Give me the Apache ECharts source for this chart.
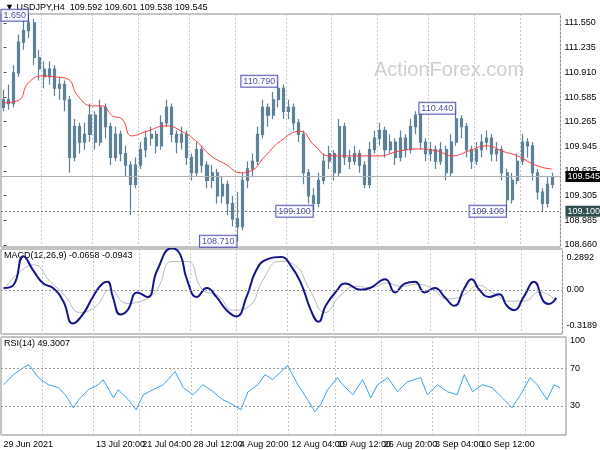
<!DOCTYPE html>
<html><head><meta charset="utf-8">
<script src="https://cdn.jsdelivr.net/npm/echarts@6/dist/echarts.min.js"></script>
<style>html,body{margin:0;background:#fff}#c{width:600px;height:450px}</style>
</head><body><div id="c"></div>
<script>
// OHLC bars as [open, close, low, high]
const bars = [
  [110.45,110.55,110.40,110.68],[110.55,110.50,110.42,110.75],[110.50,110.90,110.45,111.00],[110.90,111.30,110.85,111.40],
  [111.30,111.45,111.20,111.58],[111.45,111.55,111.35,111.65],[111.55,111.10,111.00,111.60],[111.10,110.95,110.80,111.20],
  [110.95,110.85,110.70,111.05],[110.85,110.95,110.75,111.05],[110.95,110.70,110.60,111.00],[110.70,110.75,110.55,110.85],
  [110.75,110.55,110.40,110.80],[110.55,109.80,109.60,110.60],[109.80,110.20,109.75,110.30],[110.20,110.00,109.85,110.25],
  [110.00,110.10,109.90,110.25],[110.10,110.35,110.00,110.50],[110.35,110.00,109.90,110.40],[110.00,110.45,109.95,110.55],
  [110.45,110.20,110.05,110.50],[110.20,109.80,109.70,110.25],[109.80,110.10,109.75,110.20],[110.10,109.85,109.75,110.15],
  [109.85,109.70,109.55,109.95],[109.70,109.45,109.05,109.75],[109.45,109.70,109.40,109.80],[109.70,109.90,109.65,110.00],
  [109.90,110.05,109.80,110.15],[110.05,110.10,109.95,110.20],[110.10,109.95,109.85,110.15],[109.95,110.25,109.90,110.35],
  [110.25,110.45,110.20,110.55],[110.45,110.10,110.00,110.50],[110.10,110.00,109.85,110.15],[110.00,110.10,109.90,110.20],
  [110.10,109.80,109.70,110.15],[109.80,109.60,109.50,109.85],[109.60,109.90,109.55,110.00],[109.90,109.70,109.60,109.95],
  [109.70,109.50,109.40,109.75],[109.50,109.60,109.40,109.70],[109.60,109.30,109.20,109.65],[109.30,109.45,109.20,109.55],
  [109.45,109.20,109.05,109.50],[109.20,109.00,108.90,109.30],[109.00,108.90,108.71,109.35],[108.90,109.50,108.85,109.60],
  [109.50,109.65,109.40,109.75],[109.65,109.75,109.55,109.85],[109.75,110.10,109.70,110.20],[110.10,110.45,110.05,110.55],
  [110.45,110.35,110.20,110.50],[110.35,110.55,110.30,110.65],[110.55,110.70,110.45,110.79],[110.70,110.40,110.30,110.75],
  [110.40,110.45,110.30,110.55],[110.45,110.25,110.15,110.50],[110.25,110.10,110.00,110.30],[110.10,109.60,109.45,110.15],
  [109.60,109.30,109.20,109.65],[109.30,109.20,109.10,109.40],[109.20,109.50,109.15,109.60],[109.50,109.75,109.45,109.85],
  [109.75,109.85,109.65,109.95],[109.85,109.60,109.50,109.90],[109.60,110.20,109.55,110.30],[110.20,109.80,109.70,110.25],
  [109.80,109.75,109.65,109.90],[109.75,109.85,109.70,109.95],[109.85,109.70,109.60,109.90],[109.70,109.45,109.40,109.75],
  [109.45,109.90,109.40,110.00],[109.90,110.05,109.85,110.15],[110.05,110.15,109.95,110.25],[110.15,109.90,109.80,110.20],
  [109.90,110.00,109.85,110.10],[110.00,109.80,109.70,110.05],[109.80,110.05,109.75,110.15],[110.05,109.90,109.80,110.10],
  [109.90,110.20,109.85,110.30],[110.20,110.35,110.10,110.40],[110.35,110.00,109.90,110.40],[110.00,109.85,109.75,110.05],
  [109.85,109.90,109.75,110.00],[109.90,109.75,109.65,109.95],[109.75,109.90,109.70,110.00],[109.90,109.60,109.50,109.95],
  [109.60,110.00,109.55,110.10],[110.00,110.30,109.95,110.44],[110.30,110.20,110.05,110.35],[110.20,109.90,109.80,110.25],
  [109.90,109.75,109.65,109.95],[109.75,109.90,109.70,110.00],[109.90,110.00,109.80,110.10],[110.00,110.05,109.90,110.15],
  [110.05,109.85,109.75,110.10],[109.85,109.90,109.75,110.00],[109.90,109.60,109.50,109.95],[109.60,109.25,109.10,109.65],
  [109.25,109.50,109.20,109.60],[109.50,109.75,109.45,109.85],[109.75,110.00,109.70,110.10],[110.00,109.95,109.80,110.05],
  [109.95,109.60,109.50,110.00],[109.60,109.35,109.25,109.65],[109.35,109.20,109.10,109.40],[109.20,109.45,109.15,109.55],
  [109.45,109.545,109.40,109.60]
];
const nCats = 110;

// [bar index, value]
const maLine = [[0,110.51],[2.9,110.54],[4.9,110.77],[7.8,110.86],[9.7,110.85],[12.6,110.82],[14.6,110.60],[17.5,110.47],
  [19.4,110.47],[21.4,110.34],[23.3,110.30],[25.2,110.08],[28.2,110.14],[32,110.21],[35,110.14],[37.9,110.01],
  [40.8,109.82],[43.7,109.71],[46.6,109.60],[48.5,109.62],[51.5,109.82],[54.4,110.01],[58.3,110.14],[61.2,109.95],
  [64.1,109.82],[67,109.82],[69.9,109.82],[73.8,109.82],[77.7,109.88],[81.6,109.91],[85.4,109.88],[88.3,109.82],
  [91.3,109.88],[95.1,109.95],[98.1,109.88],[101,109.82],[104.9,109.69],[107.8,109.65]];

const macdLine = [[0,0.016],[1.9,0.039],[3.9,0.297],[5.8,0.172],[7.8,0.055],[9.7,0.016],[11.7,-0.102],[13.6,-0.297],
  [15.5,-0.219],[17.5,-0.063],[19.4,0.055],[20.4,0.070],[21.4,-0.063],[22.9,-0.219],[24.3,-0.180],[26.2,-0.023],
  [28.2,-0.063],[30.1,0.172],[33,0.367],[34.6,0.313],[35.9,0.094],[37.9,-0.063],[39.8,0.016],[41.7,-0.063],
  [43.7,-0.180],[45.6,-0.235],[47.6,-0.063],[49.5,0.172],[51.5,0.266],[54.4,0.289],[56.3,0.211],[58.3,0.055],
  [60.2,-0.180],[61.7,-0.282],[63.1,-0.141],[65,-0.023],[67,0.055],[69.9,0],[71.8,0.016],[74.8,0.094],
  [76.7,-0.023],[78.6,0.055],[80.6,0.070],[82.5,-0.023],[84.5,0.016],[86.4,-0.063],[88.3,-0.141],[90.3,0.016],
  [91.7,0.094],[93.2,0],[95.1,-0.063],[97.1,-0.039],[98.6,-0.141],[100,-0.180],[101.9,-0.063],[103.9,0.070],
  [105.8,-0.102],[106.8,-0.125],[108.3,-0.070]];

const signalLine = [[0,0.0],[3,0.15],[6,0.22],[9,0.08],[12,-0.05],[15,-0.2],[18,-0.15],[21,0.0],[24,-0.12],[27,-0.1],
  [30,0.0],[33,0.25],[36,0.25],[39,0.0],[42,-0.05],[45,-0.18],[48,-0.15],[51,0.1],[54,0.25],[57,0.22],[60,0.0],
  [63,-0.2],[66,-0.05],[69,0.03],[72,0.02],[75,0.06],[78,0.03],[81,0.05],[84,0.01],[87,-0.08],[90,-0.05],
  [93,0.04],[96,-0.03],[99,-0.1],[102,-0.1],[105,-0.02],[108.3,-0.094]];

const rsiLine = [[0,52.7],[1.9,63.5],[3.9,71.1],[4.9,74.3],[6.8,60.3],[8.7,52.7],[10.7,49.5],[12,41.9],[13.6,27.8],
  [14.6,36.5],[16.5,47.3],[18.4,52.7],[19.4,58.1],[21.4,38.6],[22.3,47.3],[24.3,36.5],[25.8,25.7],[27.2,41.9],
  [29.1,47.3],[31.1,52.7],[32,58.1],[33.4,66.8],[35,49.5],[36.9,41.9],[38.8,52.7],[40.8,45.1],[42.7,36.5],
  [44.7,31.1],[46.2,25.7],[47.6,45.1],[49.5,52.7],[50.9,63.5],[52.4,58.1],[54.4,68.9],[55.3,73.2],[57.3,52.7],
  [59.2,36.5],[60.6,23.5],[61.7,31.1],[63.1,47.3],[65,60.3],[66,52.7],[68,41.9],[69.9,58.1],[71.5,38.6],
  [72.8,52.7],[74.8,60.3],[76.7,45.1],[78.6,55.9],[81.2,60.3],[82.5,41.9],[84.5,52.7],[86.4,45.1],[88.3,41.9],
  [89.7,63.5],[91.3,45.1],[93.2,52.7],[95.1,49.5],[97.1,38.6],[99,27.8],[101,45.1],[102.5,60.3],[103.9,52.7],
  [105.8,36.5],[107.2,52.7],[108.3,49.3]];

const priceTicks = [108.660,108.985,109.305,109.625,109.945,110.265,110.585,110.910,111.235,111.550];
const macdTicks = [-0.3189,0,0.2892];
const rsiTicks = [30,70,100];
const dateTicks = {0:'29 Jun 2021',8:'6 Jul 12:00',18:'13 Jul 20:00',27:'21 Jul 04:00',37:'28 Jul 12:00',46:'4 Aug 20:00',
  56:'12 Aug 04:00',65:'19 Aug 12:00',74:'26 Aug 20:00',84:'3 Sep 04:00',93:'10 Sep 12:00',102:'17 Sep 20:00'};
// [bar index, price, text]
const swingLabels = [[5,111.65,'1.650'],[54,110.79,'110.790'],[61,109.10,'109.100'],[46,108.71,'108.710'],
  [89,110.44,'110.440'],[99,109.10,'109.100']];

const font = 'Liberation Sans';
const cats = Array.from({length: nCats}, (_, i) => i);
const gridX = (idx) => ({
  type: 'category', data: cats, gridIndex: idx, boundaryGap: true,
  axisLine: {show: false}, axisTick: {show: false},
  axisLabel: idx === 2 ? {show: true, interval: (i) => dateTicks[i] !== undefined, formatter: (v) => dateTicks[v] || '',
    align: 'left', fontSize: 9, color: '#000', fontFamily: font, margin: 5, showMinLabel: true, hideOverlap: false} : {show: false},
  splitLine: {show: true, interval: (i) => dateTicks[i] !== undefined, lineStyle: {color: '#c8c8c8', type: [2, 2]}}
});
const hiddenX = (idx) => ({type: 'value', gridIndex: idx, min: -0.5, max: nCats - 0.5, show: false});
const yLab = {fontSize: 9, color: '#000', fontFamily: font, margin: 4};

const chart = echarts.init(document.getElementById('c'));
chart.setOption({
  animation: false,
  grid: [
    {left: 1, right: 34, top: 14, height: 233, show: true, borderColor: '#888', borderWidth: 1},
    {left: 1, right: 34, top: 249, height: 85, show: true, borderColor: '#888', borderWidth: 1},
    {left: 1, right: 34, top: 337, height: 98, show: true, borderColor: '#888', borderWidth: 1}
  ],
  xAxis: [gridX(0), gridX(1), gridX(2), hiddenX(0), hiddenX(1), hiddenX(2)],
  yAxis: [
    {type: 'value', gridIndex: 0, position: 'right', min: 108.634, max: 111.666, splitLine: {show: false},
      axisLine: {show: false}, axisTick: {show: true, customValues: priceTicks, length: 3},
      axisLabel: Object.assign({customValues: priceTicks, formatter: (v) => v.toFixed(3)}, yLab)},
    {type: 'value', gridIndex: 1, position: 'right', min: -0.39, max: 0.36, splitLine: {show: false},
      axisLine: {show: false}, axisTick: {show: false},
      axisLabel: Object.assign({customValues: macdTicks, formatter: (v) => v === 0 ? '0.00' : v.toFixed(4)}, yLab)},
    {type: 'value', gridIndex: 2, position: 'right', min: -1.4, max: 104, splitLine: {show: false},
      axisLine: {show: false}, axisTick: {show: false},
      axisLabel: Object.assign({customValues: rsiTicks}, yLab)}
  ],
  graphic: [
    {type: 'text', left: 5, top: 3, style: {text: '\u25BC USDJPY,H4  109.592 109.601 109.538 109.545', font: '9px ' + font, fill: '#000'}},
    {type: 'text', left: 374, top: 60, style: {text: 'ActionForex.com', font: '20px ' + font, fill: '#cfcfcf'}},
    {type: 'text', left: 4, top: 251, style: {text: 'MACD(12,26,9) -0.0698 -0.0943', font: '9px ' + font, fill: '#000'}},
    {type: 'text', left: 4, top: 339, style: {text: 'RSI(14) 49.3007', font: '9px ' + font, fill: '#000'}}
  ],
  series: [
    {type: 'candlestick', xAxisIndex: 0, yAxisIndex: 0, data: bars, barMaxWidth: 3,
      itemStyle: {color: '#5d8198', color0: '#5d8198', borderColor: '#5d8198', borderColor0: '#5d8198', borderWidth: 1.2},
      markLine: {symbol: 'none', silent: true, data: [
        {yAxis: 109.545, lineStyle: {color: '#b0b0b0', type: 'solid', width: 1},
          label: {position: 'end', formatter: '109.545', backgroundColor: '#000', color: '#fff', fontSize: 9, fontFamily: font, padding: [1, 2]}},
        {yAxis: 109.10, lineStyle: {color: '#777', type: [2, 2], width: 1},
          label: {position: 'end', formatter: '109.100', backgroundColor: '#2f4f4f', color: '#fff', fontSize: 9, fontFamily: font, padding: [1, 2]}}
      ]}},
    {type: 'line', xAxisIndex: 3, yAxisIndex: 0, data: maLine, smooth: true, symbol: 'none', lineStyle: {color: '#ff3b3b', width: 1}},
    {type: 'scatter', xAxisIndex: 3, yAxisIndex: 0, symbolSize: 0, data: swingLabels.map(d => [d[0], d[1], d[2]]),
      label: {show: true, position: 'left', distance: 1, formatter: (p) => p.value[2], fontSize: 9, fontFamily: font,
        color: '#1a1a8c', backgroundColor: '#fff', borderColor: '#3333aa', borderWidth: 1, padding: [1, 2]}},
    {type: 'line', xAxisIndex: 4, yAxisIndex: 1, data: signalLine, smooth: true, symbol: 'none', lineStyle: {color: '#b8b8b8', width: 1}},
    {type: 'line', xAxisIndex: 4, yAxisIndex: 1, data: macdLine, smooth: true, symbol: 'none', lineStyle: {color: '#14148c', width: 2},
      markLine: {symbol: 'none', silent: true, label: {show: false}, data: [{yAxis: 0}], lineStyle: {color: '#999', type: [2, 2], width: 1}}},
    {type: 'line', xAxisIndex: 5, yAxisIndex: 2, data: rsiLine, symbol: 'none', lineStyle: {color: '#3aa0e8', width: 1},
      markLine: {symbol: 'none', silent: true, label: {show: false}, data: [{yAxis: 30}, {yAxis: 70}], lineStyle: {color: '#999', type: [2, 2], width: 1}}}
  ]
});
</script></body></html>
